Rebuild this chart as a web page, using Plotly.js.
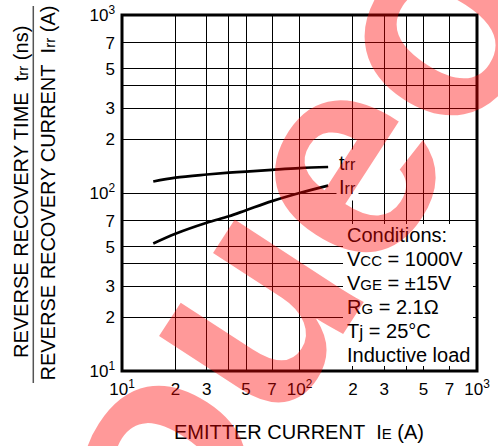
<!DOCTYPE html>
<html><head><meta charset="utf-8">
<script src="https://cdn.plot.ly/plotly-3.0.1.min.js"></script>
<style>html,body{margin:0;padding:0;background:#fff}</style>
</head><body>
<div id="chart" style="width:498px;height:446px"></div>
<script>
// ---- data ----
const emitterCurrent = [15, 20, 30, 40, 50, 70, 100, 145];          // IE (A)
const trrValues      = [116, 122, 127, 130, 132, 135, 138, 140];     // trr (ns)
const irrValues      = [52, 59, 68, 74, 80, 90, 100, 110];           // Irr (A)
const tickValues     = [10, 20, 30, 40, 50, 70, 100, 200, 300, 400, 500, 700, 1000];
const tickLabels     = ["10<sup>1</sup>", "2", "3", "", "5", "7", "10<sup>2</sup>", "2", "3", "", "5", "7", "10<sup>3</sup>"];
const conditionLines = [
  "Conditions:",
  "V<span style='font-size:15px'>CC</span> = 1000V",
  "V<span style='font-size:15px'>GE</span> = \u00b115V",
  "R<span style='font-size:15px'>G</span> = 2.1\u03a9",
  "T<span style='font-size:18px'>j</span> = 25\u00b0C",
  "Inductive load"
];

const FONT = "Liberation Sans, Arial, Helvetica, sans-serif";
const L = 122, T = 15, W = 355, H = 356;
const xp = px => (px - L) / W;
const yp = py => (T + H - py) / H;

const axisBase = {
  type: "log", range: [1, 3], tickvals: tickValues, ticktext: tickLabels,
  showgrid: true, gridcolor: "#000", gridwidth: 1, ticks: "", showline: false,
  zeroline: false, tickfont: {family: FONT, size: 17, color: "#000"}, fixedrange: true
};

const traces = [
  {x: emitterCurrent, y: trrValues, mode: "lines", line: {color: "#000", width: 2.7, shape: "spline"}, name: "trr"},
  {x: emitterCurrent, y: irrValues, mode: "lines", line: {color: "#000", width: 2.7, shape: "spline"}, name: "Irr"}
];

const annotations = [];
function ann(o) { annotations.push(Object.assign({xref: "paper", yref: "paper", showarrow: false,
  font: {family: FONT, size: 20, color: "#000"}}, o)); }

// y-axis titles (two lines separated by a bar)
ann({x: xp(21), y: yp(192), textangle: -90, xanchor: "center", yanchor: "middle",
  text: "REVERSE RECOVERY TIME\u00a0\u00a0t<span style='font-size:15px'>rr</span> (ns)"});
ann({x: xp(47.5), y: yp(193), textangle: -90, xanchor: "center", yanchor: "middle",
  text: "REVERSE RECOVERY CURRENT\u00a0\u00a0I<span style='font-size:15px'>rr</span> (A)"});
// x-axis title
ann({x: xp(299), y: yp(432), xanchor: "center", yanchor: "middle",
  text: "EMITTER CURRENT\u00a0\u00a0I<span style='font-size:15px'>E</span> (A)"});
// partial top title
ann({x: xp(299), y: yp(-12), xanchor: "center", yanchor: "middle", font: {family: FONT, size: 19, color: "#000"},
  text: "(TYPICAL)"});
// curve labels
ann({x: xp(336), y: yp(163), xanchor: "left", yanchor: "middle", bgcolor: "#fff", borderpad: 2,
  text: "t<span style='font-size:16px'>rr</span>"});
ann({x: xp(336), y: yp(187), xanchor: "left", yanchor: "middle", bgcolor: "#fff", borderpad: 2,
  text: "I<span style='font-size:16px'>rr</span>"});
// conditions
const condY = [235, 259, 283, 307, 331, 355];
conditionLines.forEach((t, i) => ann({x: xp(345), y: yp(condY[i]), xanchor: "left", yanchor: "middle", text: t}));
// watermark
ann({x: xp(285), y: yp(238), xanchor: "center", yanchor: "middle", textangle: -57,
  font: {family: FONT, size: 290, color: "rgba(255,0,0,0.4)", weight: "bold"}, text: "oueo"});

const shapes = [
  // white box behind the conditions text
  {type: "rect", xref: "paper", yref: "paper", x0: xp(343), x1: xp(473), y0: yp(366), y1: yp(224),
   fillcolor: "#fff", line: {width: 0}, layer: "above"},
  // plot frame
  {type: "rect", xref: "paper", yref: "paper", x0: 0, x1: 1, y0: 0, y1: 1,
   line: {color: "#000", width: 3}, layer: "above"},
  // bar between the two y titles
  {type: "line", xref: "paper", yref: "paper", x0: xp(33.3), x1: xp(33.3), y0: yp(6), y1: yp(383),
   line: {color: "#555", width: 1.5}}
];

const layout = {
  width: 498, height: 446,
  margin: {l: L, r: 498 - L - W, t: T, b: 446 - T - H, pad: 0},
  paper_bgcolor: "#fff", plot_bgcolor: "#fff",
  showlegend: false, hovermode: false,
  xaxis: Object.assign({}, axisBase, {ticklabelstandoff: 6}),
  yaxis: Object.assign({}, axisBase, {ticklabelstandoff: 6}),
  annotations: annotations, shapes: shapes,
  font: {family: FONT, color: "#000"}
};

Plotly.newPlot("chart", traces, layout, {staticPlot: true, displayModeBar: false});
</script>
</body></html>
